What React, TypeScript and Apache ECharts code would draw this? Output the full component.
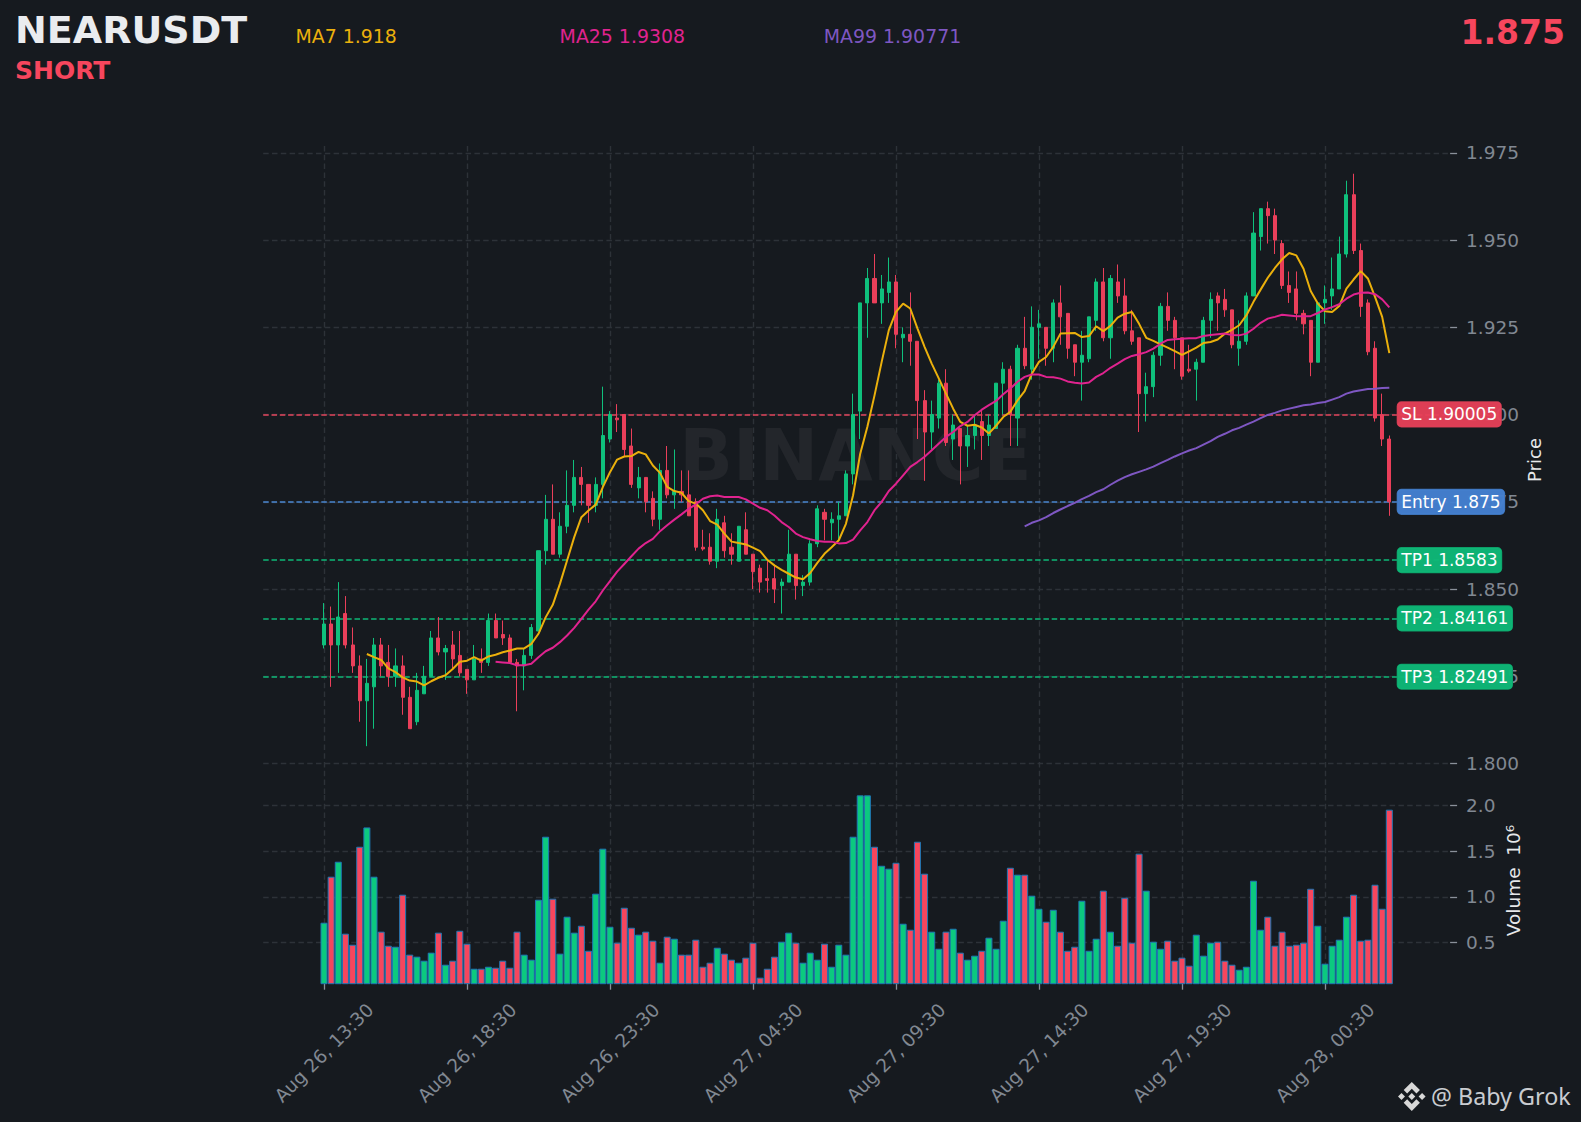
import React, { useEffect, useRef } from "react";
import * as echarts from "echarts";

const opens = [
  1.834,1.840,1.834,1.843,1.834,1.828,1.818,1.822,1.834,1.829,
  1.825,1.828,1.819,1.812,1.820,1.825,1.836,1.832,1.834,1.831,
  1.827,1.824,1.830,1.829,1.841,1.837,1.836,1.829,1.828,1.831,
  1.838,1.861,1.870,1.860,1.868,1.874,1.882,1.880,1.874,1.880,
  1.893,1.899,1.900,1.891,1.879,1.882,1.876,1.870,1.884,1.877,
  1.878,1.877,1.875,1.862,1.862,1.858,1.869,1.862,1.858,1.867,
  1.860,1.856,1.853,1.853,1.851,1.852,1.860,1.851,1.852,1.863,
  1.872,1.869,1.870,1.871,1.883,1.901,1.932,1.939,1.932,1.935,
  1.938,1.922,1.923,1.921,1.904,1.895,1.899,1.909,1.893,1.896,
  1.891,1.894,1.898,1.894,1.896,1.909,1.913,1.899,1.919,1.913,
  1.925,1.925,1.919,1.932,1.929,1.920,1.915,1.916,1.927,1.938,
  1.922,1.938,1.934,1.924,1.922,1.906,1.908,1.917,1.931,1.927,
  1.922,1.913,1.913,1.915,1.927,1.934,1.933,1.930,1.919,1.921,
  1.934,1.951,1.959,1.957,1.949,1.937,1.936,1.929,1.927,1.915,
  1.932,1.934,1.936,1.946,1.963,1.947,1.932,1.919,1.900,1.893,
];
const closes = [
  1.840,1.834,1.842,1.834,1.828,1.818,1.823,1.834,1.828,1.825,
  1.828,1.819,1.810,1.821,1.825,1.836,1.832,1.833,1.830,1.826,
  1.824,1.830,1.829,1.841,1.836,1.836,1.829,1.828,1.831,1.839,
  1.861,1.870,1.860,1.868,1.874,1.882,1.880,1.874,1.880,1.894,
  1.900,1.8985,1.890,1.880,1.882,1.875,1.870,1.884,1.877,1.878,
  1.877,1.871,1.862,1.8615,1.858,1.870,1.861,1.860,1.868,1.860,
  1.855,1.852,1.8525,1.850,1.852,1.860,1.851,1.852,1.863,1.873,
  1.870,1.870,1.871,1.883,1.900,1.932,1.939,1.932,1.936,1.938,
  1.923,1.923,1.921,1.904,1.895,1.900,1.909,1.892,1.897,1.891,
  1.894,1.897,1.894,1.897,1.909,1.913,1.900,1.919,1.914,1.925,
  1.926,1.919,1.932,1.928,1.919,1.915,1.917,1.928,1.938,1.922,
  1.939,1.934,1.924,1.921,1.906,1.908,1.917,1.931,1.927,1.922,
  1.911,1.9125,1.915,1.927,1.933,1.932,1.930,1.920,1.921,1.934,
  1.952,1.959,1.957,1.950,1.937,1.935,1.929,1.926,1.915,1.932,
  1.933,1.936,1.946,1.963,1.947,1.931,1.918,1.899,1.893,1.875,
];
const lows = [
  1.833,1.822,1.826,1.833,1.826,1.812,1.805,1.810,1.825,1.822,
  1.822,1.814,1.810,1.811,1.820,1.825,1.831,1.824,1.827,1.825,
  1.820,1.824,1.826,1.828,1.836,1.834,1.829,1.815,1.821,1.830,
  1.838,1.857,1.860,1.859,1.866,1.872,1.874,1.869,1.872,1.876,
  1.892,1.895,1.888,1.879,1.876,1.872,1.868,1.867,1.876,1.873,
  1.875,1.871,1.861,1.861,1.857,1.856,1.859,1.857,1.858,1.860,
  1.850,1.849,1.849,1.846,1.843,1.852,1.847,1.848,1.851,1.862,
  1.864,1.864,1.864,1.871,1.880,1.893,1.922,1.932,1.926,1.932,
  1.919,1.915,1.914,1.893,1.881,1.890,1.896,1.891,1.887,1.880,
  1.885,1.890,1.887,1.891,1.896,1.900,1.891,1.891,1.913,1.910,
  1.916,1.914,1.915,1.920,1.916,1.911,1.904,1.915,1.924,1.921,
  1.916,1.932,1.923,1.920,1.895,1.898,1.905,1.914,1.924,1.913,
  1.910,1.912,1.904,1.915,1.922,1.924,1.928,1.919,1.914,1.920,
  1.934,1.947,1.949,1.946,1.936,1.932,1.927,1.923,1.911,1.915,
  1.926,1.930,1.936,1.945,1.946,1.928,1.917,1.898,1.891,1.871,
];
const highs = [
  1.846,1.845,1.852,1.848,1.839,1.831,1.830,1.836,1.836,1.834,
  1.833,1.831,1.822,1.826,1.828,1.838,1.842,1.834,1.838,1.838,
  1.827,1.834,1.833,1.843,1.843,1.841,1.837,1.830,1.833,1.840,
  1.861,1.877,1.880,1.872,1.884,1.887,1.885,1.880,1.882,1.908,
  1.901,1.903,1.900,1.896,1.885,1.882,1.878,1.886,1.891,1.890,
  1.884,1.884,1.876,1.867,1.866,1.873,1.871,1.866,1.868,1.872,
  1.860,1.857,1.858,1.857,1.853,1.867,1.860,1.854,1.864,1.874,
  1.873,1.872,1.875,1.884,1.906,1.932,1.942,1.946,1.940,1.945,
  1.940,1.925,1.935,1.921,1.907,1.904,1.910,1.913,1.900,1.896,
  1.897,1.900,1.901,1.900,1.909,1.915,1.914,1.920,1.928,1.931,
  1.930,1.925,1.933,1.937,1.929,1.920,1.924,1.928,1.939,1.942,
  1.940,1.943,1.939,1.930,1.922,1.912,1.918,1.932,1.935,1.928,
  1.922,1.920,1.916,1.928,1.935,1.935,1.936,1.930,1.927,1.935,
  1.958,1.959,1.961,1.959,1.950,1.941,1.941,1.930,1.927,1.932,
  1.937,1.945,1.951,1.967,1.969,1.949,1.933,1.921,1.906,1.894,
];
const volumes = [
  .718,1.222,1.386,.598,.477,1.55,1.762,1.222,.62,.466,
  .455,1.025,.368,.346,.302,.39,.609,.258,.302,.63,
  .488,.214,.214,.236,.225,.302,.225,.62,.368,.313,
  .97,1.66,.981,.379,.784,.609,.685,.411,1.036,1.529,
  .674,.499,.882,.663,.587,.62,.521,.28,.565,.543,
  .368,.368,.532,.236,.28,.444,.379,.313,.28,.335,
  .499,.116,.214,.346,.51,.609,.499,.28,.39,.313,
  .488,.236,.477,.368,1.66,2.113,2.113,1.55,1.342,1.31,
  1.375,.707,.641,1.605,1.255,.62,.433,.62,.652,.39,
  .313,.357,.411,.554,.433,.74,1.32,1.244,1.244,1.014,
  .871,.729,.86,.62,.411,.455,.959,.411,.543,1.069,
  .62,.466,.992,.499,1.474,1.069,.51,.433,.521,.302,
  .335,.247,.587,.357,.499,.51,.302,.258,.203,.236,
  1.178,.641,.784,.466,.62,.466,.477,.499,1.09,.685,
  .269,.466,.532,.784,1.025,.521,.532,1.134,.871,1.956,
];
const ma7 = [
  1.8314,1.8305,1.8297,1.8273,1.8262,1.8247,1.8238,1.8235,1.8224,1.8236,
  1.8246,1.8253,1.8271,1.8292,1.8295,1.8305,1.8295,1.8307,1.8312,1.8319,
  1.8324,1.8330,1.8330,1.8343,1.8372,1.8419,1.8455,1.8515,1.8582,1.8649,
  1.8706,1.8725,1.8742,1.8792,1.8835,1.8871,1.8880,1.8881,1.8893,1.8886,
  1.8854,1.8833,1.8793,1.8781,1.8776,1.8752,1.8745,1.8726,1.8695,1.8685,
  1.8659,1.8636,1.8632,1.8628,1.8619,1.8609,1.8584,1.8568,1.8555,1.8544,
  1.8533,1.8528,1.8546,1.8575,1.8601,1.8620,1.8640,1.8687,1.8769,1.8888,
  1.8965,1.9055,1.9151,1.9242,1.9294,1.9318,1.9304,1.9247,1.9194,1.9146,
  1.9103,1.9060,1.9017,1.8979,1.8968,1.8971,1.8963,1.8946,1.8968,1.8993,
  1.9008,1.9041,1.9067,1.9117,1.9151,1.9165,1.9194,1.9232,1.9233,1.9234,
  1.9222,1.9225,1.9253,1.9239,1.9254,1.9278,1.9289,1.9294,1.9260,1.9220,
  1.9211,1.9201,1.9192,1.9182,1.9171,1.9181,1.9192,1.9205,1.9208,1.9215,
  1.9232,1.9243,1.9256,1.9284,1.9323,1.9358,1.9392,1.9420,1.9445,1.9463,
  1.9456,1.9418,1.9354,1.9318,1.9296,1.9294,1.9311,1.9361,1.9387,1.9411,
  1.9390,1.9337,1.9280,1.9176,
];
const ma25 = [
  1.8292,1.8290,1.8288,1.8282,1.8282,1.8286,1.8305,1.8322,1.8332,1.8348,
  1.8367,1.8389,1.8415,1.8441,1.8465,1.8496,1.8523,1.8550,1.8572,1.8594,
  1.8616,1.8632,1.8644,1.8666,1.8683,1.8699,1.8714,1.8730,1.8743,1.8759,
  1.8766,1.8768,1.8764,1.8764,1.8764,1.8757,1.8745,1.8733,1.8726,1.8711,
  1.8692,1.8678,1.8659,1.8649,1.8643,1.8638,1.8636,1.8636,1.8631,1.8632,
  1.8642,1.8668,1.8692,1.8726,1.8750,1.8781,1.8802,1.8826,1.8850,1.8864,
  1.8879,1.8898,1.8917,1.8936,1.8950,1.8967,1.8979,1.8998,1.9014,1.9027,
  1.9039,1.9058,1.9075,1.9094,1.9108,1.9115,1.9115,1.9108,1.9107,1.9103,
  1.9095,1.9091,1.9089,1.9092,1.9108,1.9119,1.9134,1.9146,1.9159,1.9168,
  1.9173,1.9179,1.9189,1.9203,1.9214,1.9216,1.9217,1.9219,1.9219,1.9225,
  1.9228,1.9230,1.9232,1.9228,1.9227,1.9232,1.9246,1.9263,1.9275,1.9280,
  1.9286,1.9284,1.9282,1.9282,1.9282,1.9291,1.9301,1.9308,1.9316,1.9332,
  1.9344,1.9349,1.9350,1.9345,1.9330,1.9307,
];
const ma99 = [
  1.8680,1.8690,1.8697,1.8706,1.8718,1.8728,1.8738,1.8747,1.8758,1.8767,
  1.8778,1.8786,1.8799,1.8811,1.8821,1.8829,1.8836,1.8843,1.8851,1.8861,
  1.8870,1.8880,1.8889,1.8897,1.8904,1.8914,1.8924,1.8936,1.8945,1.8955,
  1.8962,1.8971,1.8980,1.8990,1.8999,1.9005,1.9012,1.9017,1.9022,1.9027,
  1.9029,1.9033,1.9036,1.9043,1.9050,1.9060,1.9066,1.9070,1.9073,1.9074,
  1.9076,1.90771,
];
const tickLabels = [
  "Aug 26, 13:30", "Aug 26, 18:30", "Aug 26, 23:30", "Aug 27, 04:30",
  "Aug 27, 09:30", "Aug 27, 14:30", "Aug 27, 19:30", "Aug 28, 00:30",
];
const priceTicks = [1.8, 1.825, 1.85, 1.875, 1.9, 1.925, 1.95, 1.975];
const volumeTicks = [0.5, 1.0, 1.5, 2.0];
const levels = [
  { label: "SL 1.90005", value: 1.90005, kind: "sl" },
  { label: "Entry 1.875", value: 1.875, kind: "entry" },
  { label: "TP1 1.8583", value: 1.8583, kind: "tp" },
  { label: "TP2 1.84161", value: 1.84161, kind: "tp" },
  { label: "TP3 1.82491", value: 1.82491, kind: "tp" },
];

const LEAD = 8;
const TRAIL = 8;
const TICK_STEP = 20;
const TAG_SLOT = LEAD + 150;
const BG = "#161a1f";
const GRID = "#2d3238";
const AXIS_TEXT = "#818892";
const UP = "#0fc07c";
const DOWN = "#ea3f5a";
const LEVEL_COLOR: Record<string, string> = { sl: "#e2455c", entry: "#4a86d0", tp: "#0eb877" };
const TAG_COLOR: Record<string, string> = {
  sl: "rgba(232,64,88,0.95)",
  entry: "rgba(68,128,207,0.97)",
  tp: "rgba(14,184,119,0.97)",
};
const TAG_BORDER: Record<string, string> = { sl: "#c93d52", entry: "#3d73b8", tp: "#0d9e68" };
const FONT = "DejaVu Sans";

const total = LEAD + opens.length + TRAIL;
const categories = Array.from({ length: total }, (_, i) => {
  const k = (i - LEAD) / TICK_STEP;
  return Number.isInteger(k) && tickLabels[k] ? tickLabels[k] : "";
});
const isTick = (i: number) => categories[i] !== "";
const pad = (values: number[]) => [...Array(LEAD + opens.length - values.length).fill("-"), ...values];

const candleData = [
  ...Array(LEAD).fill(["-", "-", "-", "-"]),
  ...opens.map((o, i) => [o, closes[i], lows[i], highs[i]]),
];
const volumeData = [
  ...Array(LEAD).fill("-"),
  ...volumes.map((v, i) => ({
    value: v,
    itemStyle: { color: closes[i] >= opens[i] ? "#0cc97f" : "#f6465d" },
  })),
];

const gridLine = { show: true, lineStyle: { color: GRID, type: [5.5, 3.3], width: 1.4 } };

function App() {
  const ref = useRef<HTMLDivElement>(null);
  useEffect(() => {
    document.body.style.margin = "0";
    document.body.style.background = BG;
    echarts.graphic.registerShape(
      "binanceLogo",
      echarts.graphic.extendPath(
        "M12 9.6L14.4 12L12 14.4L9.6 12ZM4.9 9.6L7.3 12L4.9 14.4L2.5 12ZM19.1 9.6L21.5 12L19.1 14.4L16.7 12ZM12 2L17.6 7.6L15.2 10L12 6.8L8.8 10L6.4 7.6ZM12 22L17.6 16.4L15.2 14L12 17.2L8.8 14L6.4 16.4Z",
        {}
      )
    );
    const chart = echarts.init(ref.current!, undefined, { renderer: "svg" });
    const text = (t: string, x: number, y: number, size: number, color: string, extra: any = {}, rest: any = {}) => ({
      type: "text",
      x,
      y,
      z: 10,
      silent: true,
      ...rest,
      style: { text: t, fontFamily: FONT, fontSize: size, fill: color, verticalAlign: "middle", ...extra },
    });
    const xBase = {
      type: "category" as const,
      data: categories,
      axisLine: { show: false },
      splitLine: { ...gridLine, interval: (i: number) => isTick(i), alignWithLabel: true },
    };
    const yBase = {
      type: "value" as const,
      position: "right" as const,
      scale: true,
      axisLine: { show: false },
      splitLine: gridLine,
    };
    chart.setOption({
      animation: false,
      backgroundColor: BG,
      grid: [
        { left: 263.2, width: 1186.9, top: 146, height: 649 },
        { left: 263.2, width: 1186.9, top: 795, height: 188.7 },
      ],
      xAxis: [
        { ...xBase, gridIndex: 0, axisTick: { show: false }, axisLabel: { show: false } },
        {
          ...xBase,
          gridIndex: 1,
          axisTick: {
            show: true,
            length: 6,
            alignWithLabel: true,
            interval: (i: number) => isTick(i),
            lineStyle: { color: "#8a9099", width: 1.3 },
          },
          axisLabel: {
            show: true,
            interval: (i: number) => isTick(i),
            rotate: 45,
            align: "center",
            verticalAlign: "middle",
            margin: 69,
            color: AXIS_TEXT,
            fontFamily: FONT,
            fontSize: 18.5,
          },
        },
      ],
      yAxis: [
        {
          ...yBase,
          gridIndex: 0,
          min: 1.79101,
          max: 1.97695,
          axisTick: { show: true, length: 7, customValues: priceTicks, lineStyle: { color: "#8a9099", width: 1.3 } },
          axisLabel: {
            show: true,
            customValues: priceTicks,
            margin: 16,
            color: AXIS_TEXT,
            fontFamily: FONT,
            fontSize: 18.5,
            formatter: (v: number) => v.toFixed(3),
          },
        },
        {
          ...yBase,
          gridIndex: 1,
          min: 0.05,
          max: 2.117,
          axisTick: { show: true, length: 7, customValues: volumeTicks, lineStyle: { color: "#8a9099", width: 1.3 } },
          axisLabel: {
            show: true,
            customValues: volumeTicks,
            margin: 16,
            color: AXIS_TEXT,
            fontFamily: FONT,
            fontSize: 18.5,
            formatter: (v: number) => v.toFixed(1),
          },
        },
      ],
      series: [
        {
          type: "candlestick",
          name: "NEARUSDT",
          xAxisIndex: 0,
          yAxisIndex: 0,
          barWidth: 3.6,
          data: candleData,
          silent: true,
          z: 3,
          itemStyle: { color: UP, color0: DOWN, borderColor: UP, borderColor0: DOWN, borderWidth: 1 },
        },
        ...[
          { name: "MA7", values: ma7, color: "#ebb00c" },
          { name: "MA25", values: ma25, color: "#e0238f" },
          { name: "MA99", values: ma99, color: "#7e57c2" },
        ].map((m) => ({
          type: "line",
          name: m.name,
          xAxisIndex: 0,
          yAxisIndex: 0,
          data: pad(m.values),
          showSymbol: false,
          silent: true,
          z: 4,
          lineStyle: { color: m.color, width: 2 },
          itemStyle: { color: m.color },
        })),
        {
          type: "scatter",
          name: "Levels",
          xAxisIndex: 0,
          yAxisIndex: 0,
          symbolSize: 0,
          silent: true,
          z: 8,
          itemStyle: { opacity: 1 },
          markLine: {
            silent: true,
            symbol: "none",
            precision: 6,
            z: 2,
            label: { show: false },
            data: levels.map((l) => ({
              yAxis: l.value,
              lineStyle: { color: LEVEL_COLOR[l.kind], type: [5.5, 2.8], width: 1.5, opacity: 1 },
            })),
          },
          data: levels.map((l) => ({
            value: [TAG_SLOT, l.value],
            label: {
              show: true,
              position: "right",
              distance: 1,
              opacity: 1,
              formatter: l.label,
              color: "#ffffff",
              fontFamily: FONT,
              fontSize: 17,
              lineHeight: 17,
              padding: [4, 3.8, 3.5, 3.8],
              borderRadius: 4,
              backgroundColor: TAG_COLOR[l.kind],
              borderColor: TAG_BORDER[l.kind],
              borderWidth: 0.8,
            },
          })),
        },
        {
          type: "bar",
          name: "Volume",
          xAxisIndex: 1,
          yAxisIndex: 1,
          barWidth: 7,
          silent: true,
          data: volumeData,
          itemStyle: { borderColor: "#1f77b4", borderWidth: 1 },
        },
      ],
      graphic: [
        text("BINANCE", 855.5, 456, 70.5, "#23262b", { fontWeight: "bold", align: "center" }, { z: 1 }),
        text("NEARUSDT", 15, 30, 38, "#eaecef", { fontWeight: "bold" }),
        text("SHORT", 15, 70.5, 25, "#f6465d", { fontWeight: "bold" }),
        text("MA7 1.918", 295.5, 36, 18.9, "#ebb00c"),
        text("MA25 1.9308", 559.6, 36, 18.9, "#e0238f"),
        text("MA99 1.90771", 823.8, 36, 18.9, "#7e57c2"),
        text("1.875", 1565, 32, 33, "#f6465d", { fontWeight: "bold", align: "right" }),
        text("Price", 1534, 460, 18, "#e6e8ea", { align: "center" }, { rotation: Math.PI / 2 }),
        text("Volume  10\u2076", 1513, 880.5, 18.5, "#e6e8ea", { align: "center" }, { rotation: Math.PI / 2 }),
        { type: "binanceLogo", x: 1394.4, y: 1079, scaleX: 1.45, scaleY: 1.45, z: 10, silent: true, style: { fill: "#d8d8d8" } },
        text("@ Baby Grok", 1431, 1096, 23.3, "#c9ccd0", { fontFamily: "Noto Sans" }),
      ],
    });
    return () => chart.dispose();
  }, []);
  return <div ref={ref} style={{ position: "absolute", left: 0, top: 0, width: 1581, height: 1122 }} />;
}

export default App;
